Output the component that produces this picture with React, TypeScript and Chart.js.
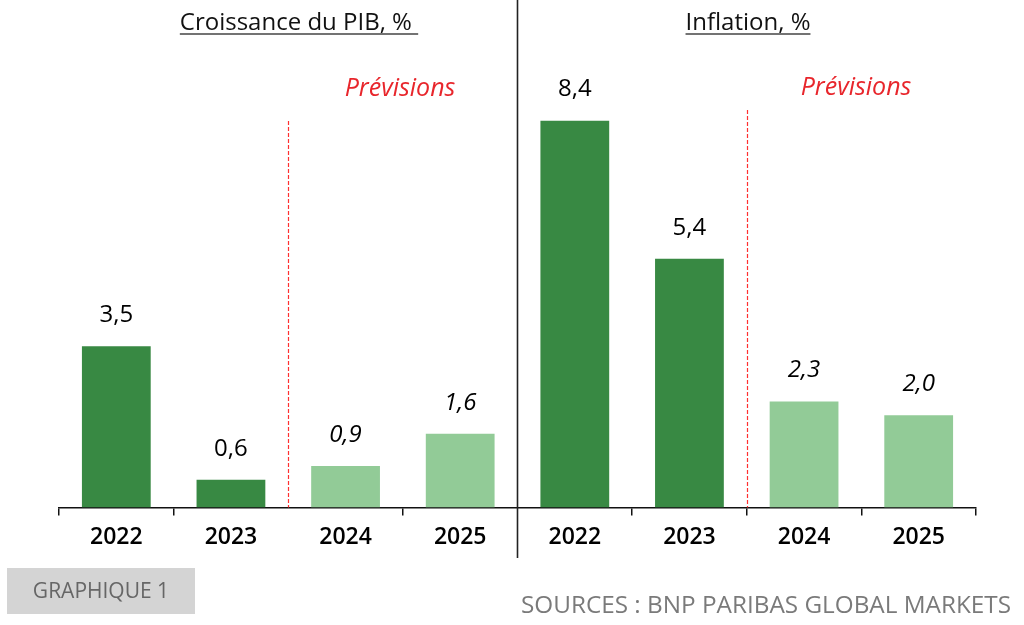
import React, { useEffect, useRef } from "react";
import { Chart, registerables } from "chart.js";

Chart.register(...registerables);

const years = ["2022", "2023", "2024", "2025"];
const gdpValues = [3.5, 0.6, 0.9, 1.6];
const inflationValues = [8.4, 5.4, 2.3, 2.0];
const forecastFlags = [false, false, true, true];
const panelTitles = ["Croissance du PIB, % ", "Inflation, %"];
const forecastLabel = "Prévisions";
const graphLabel = "GRAPHIQUE 1";
const sourceLabel = "SOURCES : BNP PARIBAS GLOBAL MARKETS";

const DARK = "#388943";
const LIGHT = "#92cb97";
const RED = "#e8262c";
const FONT = "'Open Sans', 'Noto Sans', sans-serif";

const labels = [...years, ...years];
const values = [...gdpValues, ...inflationValues];
const forecasts = [...forecastFlags, ...forecastFlags];

const fmt = (v: number) => v.toFixed(1).replace(".", ",");

const overlayPlugin = {
  id: "overlay",
  afterDraw(chart: any) {
    const ctx = chart.ctx;
    const x = chart.scales.x;
    const area = chart.chartArea;
    const bottom = area.bottom;
    ctx.save();

    // data labels
    const meta = chart.getDatasetMeta(0);
    meta.data.forEach((bar: any, i: number) => {
      ctx.font = `${forecasts[i] ? "italic " : ""}500 24px ${FONT}`;
      ctx.fillStyle = "#000";
      ctx.textAlign = "center";
      ctx.textBaseline = "middle";
      ctx.fillText(fmt(values[i]), bar.x, bar.y - 31);
    });

    // red dashed forecast separators
    const boundary = (i: number) => (x.getPixelForValue(i) + x.getPixelForValue(i + 1)) / 2;
    ctx.strokeStyle = "#ff3030";
    ctx.lineWidth = 1.2;
    ctx.setLineDash([4, 2]);
    [
      { b: boundary(1), top: 121 },
      { b: boundary(5), top: 110 },
    ].forEach(({ b, top }) => {
      ctx.beginPath();
      ctx.moveTo(Math.round(b) + 0.5, top);
      ctx.lineTo(Math.round(b) + 0.5, bottom);
      ctx.stroke();
    });
    ctx.setLineDash([]);

    // panel separator
    const sep = boundary(3);
    ctx.strokeStyle = "#222";
    ctx.lineWidth = 1.6;
    ctx.beginPath();
    ctx.moveTo(sep, 0);
    ctx.lineTo(sep, 558);
    ctx.stroke();

    // titles
    ctx.fillStyle = "#111";
    ctx.textAlign = "center";
    ctx.textBaseline = "alphabetic";
    ctx.font = `500 24px ${FONT}`;
    const titleX = [299, 748];
    panelTitles.forEach((t, i) => {
      const w = ctx.measureText(t).width;
      ctx.fillText(t, titleX[i], 30);
      ctx.strokeStyle = "#444";
      ctx.lineWidth = 1.5;
      ctx.beginPath();
      ctx.moveTo(titleX[i] - w / 2, 34);
      ctx.lineTo(titleX[i] + w / 2, 34);
      ctx.stroke();
    });

    // Prévisions
    ctx.fillStyle = RED;
    ctx.font = `italic 500 25px ${FONT}`;
    ctx.fillText(forecastLabel, 400, 96);
    ctx.fillText(forecastLabel, 856, 95);

    // bottom box
    ctx.fillStyle = "#d4d4d4";
    ctx.fillRect(7, 568, 188, 46);
    ctx.fillStyle = "#666";
    ctx.font = `500 21px ${FONT}`;
    ctx.textAlign = "center";
    ctx.textBaseline = "middle";
    ctx.fillText(graphLabel, 101, 592);

    ctx.fillStyle = "#7a7a7a";
    ctx.textAlign = "right";
    ctx.font = `500 24.3px ${FONT}`;
    ctx.fillText(sourceLabel, 1011, 606);

    ctx.restore();
  },
};

export default function App() {
  const ref = useRef<HTMLCanvasElement | null>(null);
  useEffect(() => {
    if (!ref.current) return;
    const chart = new Chart(ref.current, {
      type: "bar",
      data: {
        labels,
        datasets: [
          {
            data: values,
            backgroundColor: forecasts.map((f) => (f ? LIGHT : DARK)),
            barPercentage: 0.6,
            categoryPercentage: 1,
          },
        ],
      },
      options: {
        animation: false,
        responsive: true,
        maintainAspectRatio: false,
        layout: { padding: { left: 59, right: 48, top: 93, bottom: 66 } },
        plugins: { legend: { display: false }, tooltip: { enabled: false } },
        scales: {
          y: { display: false, min: 0, max: 9 },
          x: {
            border: { display: true, color: "#111", width: 1.5 },
            grid: {
              display: true,
              offset: true,
              drawOnChartArea: false,
              drawTicks: true,
              tickLength: 8,
              lineWidth: 1.5,
              color: (c: any) => (c.index === 2 || c.index === 4 ? "rgba(0,0,0,0)" : "#111"),
            },
            ticks: {
              color: "#000",
              padding: 8,
              font: { family: FONT, size: 23, weight: 600 },
            },
          },
        },
      },
      plugins: [overlayPlugin],
    });
    return () => chart.destroy();
  }, []);
  return (
    <div style={{ position: "fixed", left: 0, top: 0, width: 1024, height: 625, background: "#fff" }}>
      <canvas ref={ref} />
    </div>
  );
}
